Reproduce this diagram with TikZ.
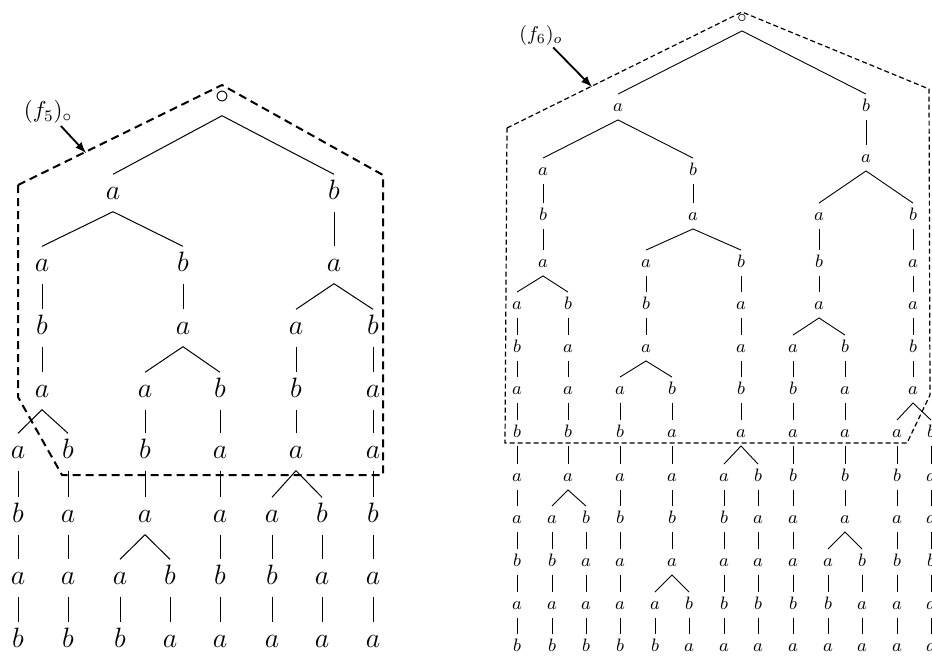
\documentclass[tikz,border=0pt]{standalone}
\usepackage{fix-cm}
\begin{document}
\begin{tikzpicture}[x=0.5pt,y=-0.5pt,
  bigsym/.style={inner sep=2.5pt,text height=9.8pt,text depth=3.5pt,font=\fontsize{14}{17}\selectfont},
  smallsym/.style={inner sep=2pt,text height=6.3pt,text depth=2.25pt,font=\fontsize{9}{11}\selectfont},
  bigedge/.style={line width=0.5pt},
  smalledge/.style={line width=0.45pt},
  bigcut/.style={line width=1pt,dash pattern=on 4pt off 2.5pt},
  smallcut/.style={line width=0.6pt,dash pattern=on 2.5pt off 1.5pt},
  pointer/.style={-latex,line width=0.9pt}]
\useasboundingbox (0,0) rectangle (932,655);
\clip (0,0) rectangle (932,655);

% left tree (f_5)
\foreach \k/\y/\row in {0/97/{222/\circ}, 1/193/{113/a,334/b}, 2/265/{42/a,183/b,334/a},
    3/328/{42/b,183/a,296/a,373/b}, 4/391/{42/a,145/a,220/b,296/b,373/a},
    5/452/{18/a,68/b,145/b,220/a,296/a,373/a}, 6/516/{18/b,68/a,145/a,220/a,272/a,322/b,373/b},
    7/578/{18/a,68/a,120/a,170/b,220/b,272/b,322/a,373/a}, 8/641/{18/b,68/b,120/b,170/a,220/a,272/a,322/a,373/a}}
  {\foreach \c/\t in \row \node[bigsym] (l\c-\k) at (\c,\y) {$\t$};}
\foreach \p/\l/\r in {222-0/113-1/334-1, 113-1/42-2/183-2, 42-4/18-5/68-5, 183-3/145-4/220-4,
    145-6/120-7/170-7, 334-2/296-3/373-3, 296-5/272-6/322-6}
  \draw[bigedge] (l\l.north) -- (l\p.south) -- (l\r.north);
\foreach \c/\s/\e in {334/1/1, 42/2/3, 18/5/7, 68/5/7, 183/2/2, 145/4/5, 120/7/7, 170/7/7,
    220/4/7, 296/3/4, 272/6/7, 322/6/7, 373/3/7}
  {\foreach \k in {\s,...,\e}
    {\pgfmathtruncatemacro{\m}{\k+1}
     \draw[bigedge] (l\c-\k.south) -- (l\c-\m.north);}}
\draw[bigcut] (18,185) -- (222,85) -- (383,175) -- (383,475) -- (62,475) -- (18,397) -- cycle;
\node[inner sep=1pt,font=\fontsize{11.5}{14}\selectfont] (f5) at (48,112) {$(f_5)_\circ$};
\coordinate (f5tip) at (86,153);
\draw[pointer] (f5) -- (f5tip);

% right tree (f_6)
\foreach \k/\y/\row in {0/18/{742/\circ}, 1/107/{618/a,866/b}, 2/171/{543/a,693/b},
    3/216/{543/b,693/a,819/a,913/b}, 4/263/{543/a,646/a,741/b,819/b,913/a},
    5/305/{517/a,568/b,646/b,741/a,819/a,913/a}, 6/348/{517/b,568/a,646/a,741/a,793/a,845/b,913/b},
    7/390/{517/a,568/a,620/a,672/b,741/b,793/b,845/a,913/a},
    8/433/{517/b,568/b,620/b,672/a,741/a,793/a,845/a,897/a,931/b},
    9/477/{517/a,568/a,620/a,672/a,724/a,758/b,793/b,845/b,897/b,931/a},
    10/519/{517/a,552/a,586/b,620/b,672/b,724/b,758/a,793/a,845/a,897/a,931/a},
    11/562/{517/b,552/b,586/a,620/a,672/a,724/a,758/a,793/a,828/a,862/b,897/b,931/b},
    12/605/{517/a,552/a,586/a,620/a,655/a,689/b,724/b,758/b,793/b,828/b,862/a,897/a,931/a},
    13/647/{517/b,552/b,586/b,620/b,655/b,689/a,724/a,758/a,793/a,828/a,862/a,897/a,931/a}}
  {\foreach \c/\t in \row \node[smallsym] (r\c-\k) at (\c,\y) {$\t$};}
\node[smallsym] (r866-2) at (866,158) {$a$};
\foreach \p/\l/\r in {742-0/618-1/866-1, 618-1/543-2/693-2, 543-4/517-5/568-5, 568-9/552-10/586-10,
    693-3/646-4/741-4, 646-6/620-7/672-7, 672-11/655-12/689-12, 741-8/724-9/758-9,
    866-2/819-3/913-3, 819-5/793-6/845-6, 845-10/828-11/862-11, 913-7/897-8/931-8}
  \draw[smalledge] (r\l.north) -- (r\p.south) -- (r\r.north);
\foreach \c/\s/\e in {866/1/1, 543/2/3, 517/5/12, 568/5/8, 552/10/12, 586/10/12, 693/2/2,
    646/4/5, 620/7/12, 672/7/10, 655/12/12, 689/12/12, 741/4/7, 724/9/12, 758/9/12,
    819/3/4, 793/6/12, 845/6/9, 828/11/12, 862/11/12, 913/3/6, 897/8/12, 931/8/12}
  {\foreach \k in {\s,...,\e}
    {\pgfmathtruncatemacro{\m}{\k+1}
     \draw[smalledge] (r\c-\k.south) -- (r\c-\m.north);}}
\draw[smallcut] (507,128) -- (742,12) -- (929,89) -- (930,395) -- (907,443) -- (505,443) -- cycle;
\node[inner sep=1pt,font=\fontsize{10}{12}\selectfont] (f6) at (541,35) {$(f_6)_o$};
\coordinate (f6tip) at (592,87);
\draw[pointer] (f6) -- (f6tip);
\end{tikzpicture}
\end{document}
